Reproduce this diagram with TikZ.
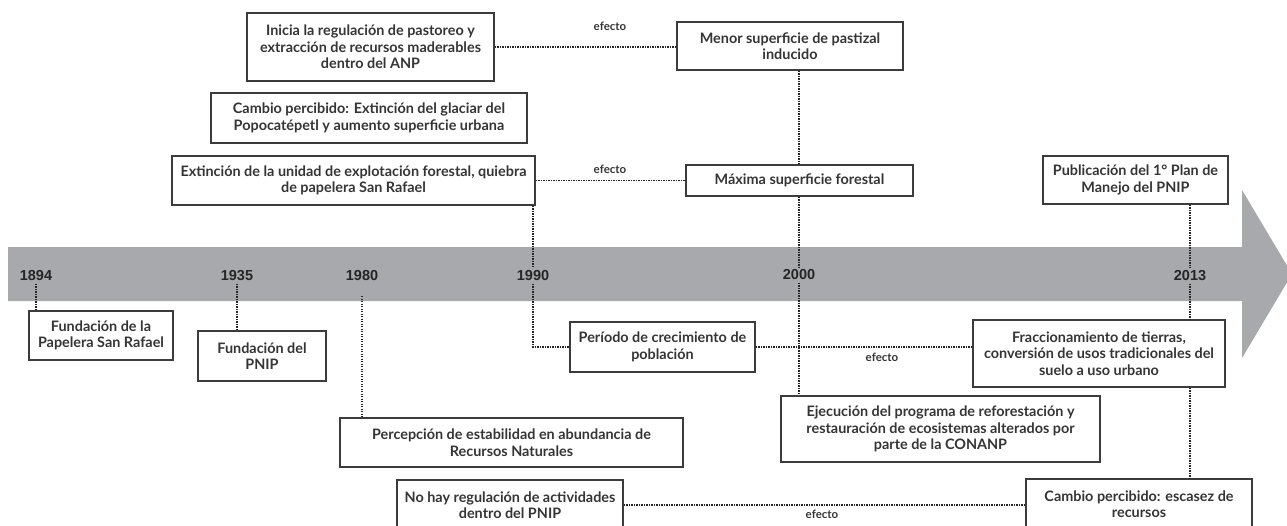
\documentclass[tikz,border=0pt]{standalone}
\usepackage{fontspec}
\setmainfont{Lato}
\newfontfamily\yearfont{Liberation Sans}
\definecolor{band}{HTML}{A7A9AC}
\definecolor{boxline}{HTML}{3C3C3C}
\definecolor{txt}{HTML}{353535}
\tikzset{
  evbox/.style={draw=boxline, line width=1.4pt, fill=white, text=txt, align=center,
    font=\bfseries\fontsize{14.4}{16.5}\selectfont, inner sep=0pt},
  yr/.style={text=black!85, font=\yearfont\bfseries\fontsize{14.5}{14.5}\selectfont, inner sep=2.5pt},
  eff/.style={text=txt, font=\bfseries\fontsize{11.5}{13}\selectfont, inner sep=1pt},
  dots/.style={draw=black!85, line width=1.6pt, dash pattern=on 1.3pt off 1.2pt},
}
\begin{document}
\begin{tikzpicture}[x=1pt,y=-1pt]
\useasboundingbox (0,0) rectangle (1287,525);
\clip (0,0) rectangle (1287,525);
% timeline band with arrow head
\fill[band] (8,247) -- (1242,247) -- (1242,190) -- (1292,274) -- (1242,358) -- (1242,301) -- (8,301) -- cycle;
% year labels
\node[yr] (y1894) at (36,276) {1894};
\node[yr] (y1935) at (237,276) {1935};
\node[yr] (y1980) at (362,276) {1980};
\node[yr] (y1990) at (533,276) {1990};
\node[yr] (y2000) at (799,275) {2000};
\node[yr] (y2013) at (1190,276) {2013};
\coordinate (c1980) at (362,296);
% event boxes
\node[evbox, minimum width=247, minimum height=68] (ini) at (370.5,47) {Inicia la regulación de pastoreo y\\extracción de recursos maderables\\dentro del ANP};
\node[evbox, minimum width=226, minimum height=48] (men) at (790,46) {Menor superficie de pastizal\\inducido};
\node[evbox, minimum width=316, minimum height=50] (cam) at (369,118) {Cambio percibido: Extinción del glaciar del\\Popocatépetl y aumento superficie urbana};
\node[evbox, minimum width=363, minimum height=49] (ext) at (353.5,180.5) {Extinción de la unidad de explotación forestal, quiebra\\de papelera San Rafael};
\node[evbox, minimum width=227, minimum height=31] (max) at (799.5,180.5) {Máxima superficie forestal};
\node[evbox, minimum width=185, minimum height=48] (pub) at (1135.5,180) {Publicación del 1° Plan de\\Manejo del PNIP};
\node[evbox, minimum width=144, minimum height=49] (fun1) at (101,335.5) {Fundación de la\\Papelera San Rafael};
\node[evbox, minimum width=128, minimum height=50] (fun2) at (262,356) {Fundación del\\PNIP};
\node[evbox, minimum width=185, minimum height=50] (per) at (662.5,347) {Período de crecimiento de\\población};
\node[evbox, minimum width=252, minimum height=67] (fra) at (1099,353.5) {Fraccionamiento de tierras,\\conversión de usos tradicionales del\\suelo a uso urbano};
\node[evbox, minimum width=343, minimum height=49] (pcp) at (511.5,442.5) {Percepción de estabilidad en abundancia de\\Recursos Naturales};
\node[evbox, minimum width=319, minimum height=66] (eje) at (940.5,429) {Ejecución del programa de reforestación y\\restauración de ecosistemas alterados por\\parte de la CONANP};
\node[evbox, minimum width=226, minimum height=50] (noh) at (510,505) {No hay regulación de actividades\\dentro del PNIP};
\node[evbox, minimum width=226, minimum height=50] (esc) at (1139,504) {Cambio percibido: escasez de\\recursos};
% effect labels
\node[eff] (e1) at (610,26) {efecto};
\node[eff] (e2) at (610,169) {efecto};
\node[eff] (e3) at (882,357) {efecto};
\node[eff] (e4) at (822,514) {efecto};
% connectors
\path[dots] (ini.east) -- (ini.east -| men.west);
\path[dots] (ext.east) -- (max.west);
\path[dots] (per.east) -- (per.east -| fra.west);
\path[dots] (noh.east) -- (noh.east -| esc.west);
\path[dots] (y1894) -- (y1894 |- fun1.north);
\path[dots] (y1935) -- (y1935 |- fun2.north);
\path[dots] (c1980) -- (c1980 |- pcp.north);
\path[dots] (y1990 |- ext.south) -- (y1990);
\path[dots] (y1990) -- (y1990 |- per.west) -- (per.west);
\path[dots] (y2000 |- men.south) -- (y2000 |- max.north);
\path[dots] (y2000 |- max.south) -- (y2000);
\path[dots] (y2000) -- (y2000 |- eje.north);
\path[dots] (y2013 |- pub.south) -- (y2013);
\path[dots] (y2013) -- (y2013 |- fra.north);
\path[dots] (y2013 |- fra.south) -- (y2013 |- esc.north);
\end{tikzpicture}
\end{document}
